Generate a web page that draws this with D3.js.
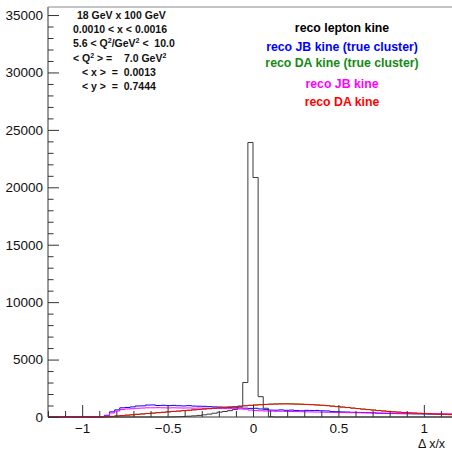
<!DOCTYPE html>
<html>
<head>
<meta charset="utf-8">
<script src="https://cdn.jsdelivr.net/npm/d3@7"></script>
<style>
  body { margin: 0; background: #fff; }
  text { font-family: "Liberation Sans", Arial, Helvetica, sans-serif; }
</style>
</head>
<body>
<div id="chart"></div>
<script>
// resolution of x (delta x / x) for the 5 reconstruction methods
// 80 bins from -1.2 to 1.2

const binLow = -1.2;
const binWidth = 0.03;

const leptonKine = [
  0, 0, 0, 0, 0, 0, 0, 0, 0, 0, 0, 0, 0, 0, 0, 0, 0, 0, 0, 0, 0, 0, 0, 0,
  10, 25, 45, 70, 100, 140, 190, 250, 330, 420, 480, 550, 650, 900,
  3000, 23900, 20850, 1770, 760, 20,
  0, 0, 0, 0, 0, 0, 0, 0, 0, 0, 0, 0, 0, 0, 0, 0, 0, 0, 0, 0, 0, 0, 0, 0,
  0, 0, 0, 0, 0, 0, 0, 0, 0, 0, 0, 0
];

const jbTrueCluster = [
  0, 0, 0, 0, 0, 0, 0, 0, 0, 0, 0,
  150, 450, 620, 800, 830, 880, 960, 970, 1040, 1050,
  1000, 1020, 990, 1010, 980, 960, 990, 950, 940, 930,
  900, 880, 870, 850, 820, 800, 790, 770, 750, 760,
  700, 640, 600, 590, 620, 580, 600, 560, 540, 580,
  560, 570, 540, 530, 470, 460, 440, 430, 410, 400,
  390, 380, 360, 330, 320, 310, 300, 290, 285, 280,
  270, 265, 260, 250, 245, 240, 230, 225, 220
];

const daTrueCluster = [
  0, 0, 0, 0, 0, 0, 0, 0, 0, 0, 0,
  15, 50, 95, 120, 165, 190, 240, 265, 310, 335,
  380, 405, 455, 490, 510, 560, 585, 630, 655, 700,
  725, 775, 810, 835, 880, 900, 950, 975, 1020, 1045,
  1075, 1100, 1130, 1150, 1160, 1160, 1150, 1135, 1120, 1100,
  1080, 1060, 1030, 1000, 950, 910, 870, 830, 780, 740,
  690, 650, 610, 570, 530, 490, 455, 425, 395, 365,
  345, 325, 300, 285, 262, 245, 228, 212, 198
];

const jbKine = [
  0, 0, 0, 0, 0, 0, 0, 0, 0, 0, 0,
  100, 350, 520, 650, 700, 720, 760, 780, 800, 800,
  810, 800, 790, 800, 790, 780, 790, 770, 780, 770,
  760, 750, 750, 740, 730, 720, 700, 680, 600, 560,
  540, 520, 510, 500, 500, 490, 480, 470, 460, 450,
  440, 430, 420, 410, 400, 395, 390, 380, 375, 370,
  360, 355, 350, 345, 340, 335, 330, 325, 320, 315,
  310, 305, 300, 295, 290, 285, 280, 275, 270
];

const daKine = [
  0, 0, 0, 0, 0, 0, 0, 0, 0, 0, 0,
  20, 55, 90, 125, 160, 195, 230, 270, 300, 340,
  375, 410, 450, 480, 515, 550, 590, 620, 660, 695,
  730, 770, 800, 840, 870, 905, 940, 980, 1010, 1040,
  1070, 1090, 1110, 1120, 1130, 1135, 1130, 1120, 1110, 1090,
  1070, 1040, 1010, 980, 940, 900, 860, 820, 770, 730,
  680, 640, 600, 560, 520, 480, 450, 420, 390, 360,
  340, 320, 300, 280, 260, 240, 225, 210, 195
];

// drawing order = legend order
const seriesNames = [
  'reco lepton kine',
  'reco JB kine (true cluster)',
  'reco DA kine (true cluster)',
  'reco JB kine',
  'reco DA kine'
];
const seriesColors = ['#000000', '#0000ff', '#138a13', '#ff00ff', '#ff0000'];
const lineColors = ['#3a3a3a', '#0000ff', '#2a9a2a', '#ff00ff', '#ff0000'];
const seriesValues = [leptonKine, jbTrueCluster, daTrueCluster, jbKine, daKine];

const statLines = [
  '18 GeV x 100 GeV',
  '0.0010 < x < 0.0016',
  '5.6 < Q^2/GeV^2 <  10.0',
  '< Q^2 > =    7.0 GeV^2',
  '< x >  =  0.0013',
  '< y >  =  0.7444'
];

const xMajorTicks = [-1, -0.5, 0, 0.5, 1];
const yMajorTicks = [0, 5000, 10000, 15000, 20000, 25000, 30000, 35000];
const xDomain = [-1.2, 1.2];
const yDomain = [0, 35700];

// ---- layout
const width = 452, height = 450;
const margin = { top: 7, left: 48, bottom: 33 };
const plotRight = 458;   // frame runs past the window edge
const plotBottom = height - margin.bottom;

const svg = d3.select('#chart').append('svg')
    .attr('width', width)
    .attr('height', height);

const x = d3.scaleLinear().domain(xDomain).range([margin.left, plotRight]);
const y = d3.scaleLinear().domain(yDomain).range([plotBottom, margin.top]);

// ---- histograms
const step = d3.line()
    .x(d => x(d[0]))
    .y(d => y(d[1]))
    .curve(d3.curveStepAfter);

seriesValues.forEach((vals, k) => {
    const pts = vals.map((v, i) => [binLow + i * binWidth, v]);
    pts.push([binLow + vals.length * binWidth, vals[vals.length - 1]]);
    svg.append('path')
        .attr('d', step(pts))
        .attr('fill', 'none')
        .attr('stroke', lineColors[k])
        .attr('stroke-width', 1);
});

// ---- axes (ROOT style: ticks point into the frame)
const axisColor = '#333';

const xMinor = d3.range(-12, 13).map(i => i / 10).filter(v => !xMajorTicks.some(m => Math.abs(m - v) < 1e-9));
const yMinor = d3.range(0, 36000, 1000).filter(v => v % 5000 !== 0);

svg.append('g')
    .attr('transform', `translate(0,${plotBottom})`)
    .call(d3.axisBottom(x).tickValues(xMajorTicks).tickSize(-12).tickPadding(6)
        .tickFormat(d => d3.format('')(d).replace('-', '\u2212')));
svg.append('g')
    .attr('transform', `translate(0,${plotBottom})`)
    .call(d3.axisBottom(x).tickValues(xMinor).tickSize(-6).tickFormat(''));

svg.append('g')
    .attr('transform', `translate(${margin.left},0)`)
    .call(d3.axisLeft(y).tickValues(yMajorTicks).tickSize(-11).tickPadding(5).tickFormat(d3.format('d')));
svg.append('g')
    .attr('transform', `translate(${margin.left},0)`)
    .call(d3.axisLeft(y).tickValues(yMinor).tickSize(-5.5).tickFormat(''));

svg.selectAll('.domain').remove();
svg.selectAll('.tick line').attr('stroke', axisColor);
svg.selectAll('.tick text')
    .attr('fill', '#111')
    .style('font-size', '13.5px');

// frame lines
svg.append('line')
    .attr('x1', margin.left).attr('x2', plotRight)
    .attr('y1', plotBottom).attr('y2', plotBottom)
    .attr('stroke', axisColor);
svg.append('line')
    .attr('x1', margin.left).attr('x2', margin.left)
    .attr('y1', margin.top).attr('y2', plotBottom)
    .attr('stroke', axisColor);
svg.append('line')
    .attr('x1', margin.left).attr('x2', plotRight)
    .attr('y1', margin.top).attr('y2', margin.top)
    .attr('stroke', '#888');

// x axis title
svg.append('text')
    .attr('x', 418)
    .attr('y', 447.5)
    .style('font-size', '12.5px')
    .attr('fill', '#111')
    .text('\u0394 x/x');

// ---- stats text, "^2" becomes a superscript
const statX = [77, 73, 73, 73, 82, 82];
statLines.forEach((line, i) => {
    const t = svg.append('text')
        .attr('x', statX[i])
        .attr('y', 19 + i * 14.2)
        .style('font-size', '10.5px')
        .style('font-weight', 'bold')
        .attr('fill', '#111')
        .attr('xml:space', 'preserve');
    line.split('^').forEach((part, j) => {
        if (j === 0) { t.append('tspan').text(part); return; }
        t.append('tspan').attr('dy', -4).style('font-size', '7px').text(part[0]);
        t.append('tspan').attr('dy', 4).text(part.slice(1));
    });
});

// ---- legend (text only, coloured)
const legendY = [32, 51, 67, 88, 106];
seriesNames.forEach((name, k) => {
    svg.append('text')
        .attr('x', 342)
        .attr('y', legendY[k])
        .attr('text-anchor', 'middle')
        .style('font-size', '12.3px')
        .style('font-weight', 'bold')
        .attr('fill', seriesColors[k])
        .text(name);
});
</script>
</body>
</html>
